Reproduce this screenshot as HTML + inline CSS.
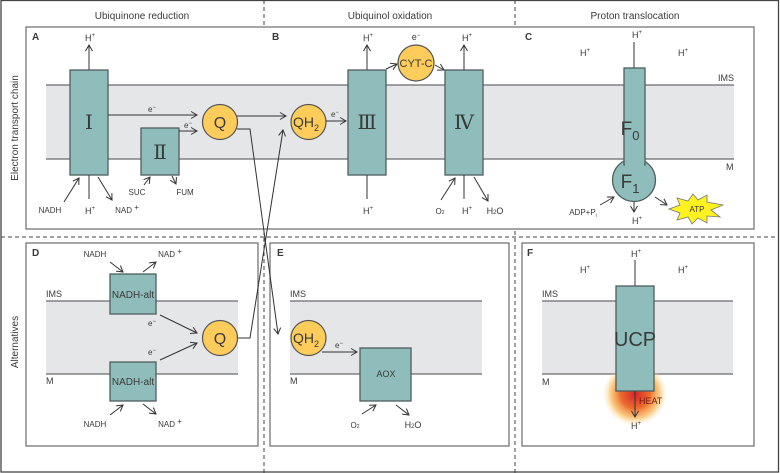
<!DOCTYPE html>
<html><head><meta charset="utf-8"><style>
html,body{margin:0;padding:0;background:#fff}
svg{display:block;font-family:"Liberation Sans",sans-serif}
text{fill:#3a3a3a}
.m{fill:#8fbdbb;stroke:#4f5d5d;stroke-width:1.3}
.c{fill:#fdcc5a;stroke:#555;stroke-width:1.2}
.a{stroke:#333;stroke-width:1;fill:none}
.ml{stroke:#6b6b6b;stroke-width:1.3}
.band{fill:#e5e6e8}
.s{font-size:8px}
.n{font-size:9px}
</style></head><body>
<svg width="780" height="473" viewBox="0 0 780 473">
<defs>
<marker id="ah" markerWidth="8" markerHeight="8" refX="7" refY="4" orient="auto" markerUnits="userSpaceOnUse"><path d="M1,0.5 L7,4 L1,7.5" fill="none" stroke="#333" stroke-width="1"/></marker>
<radialGradient id="heat" cx="0.5" cy="0.5" r="0.5"><stop offset="0" stop-color="#d5262a"/><stop offset="0.45" stop-color="#ec6a2c"/><stop offset="0.75" stop-color="#f9b04a" stop-opacity="0.7"/><stop offset="1" stop-color="#fde3a0" stop-opacity="0"/></radialGradient>
</defs>
<rect x="1" y="0.5" width="777.5" height="471.5" fill="none" stroke="#444" stroke-width="1.3"/>
<g stroke="#444" stroke-dasharray="4,3" stroke-width="1">
<line x1="1" y1="237" x2="779" y2="237"/><line x1="264" y1="0" x2="264" y2="473"/><line x1="515" y1="0" x2="515" y2="473"/>
</g>
<g font-size="10" text-anchor="middle">
<text x="142" y="19">Ubiquinone reduction</text><text x="390" y="19">Ubiquinol oxidation</text><text x="635" y="19">Proton translocation</text>
</g>
<text transform="translate(18,128) rotate(-90)" font-size="10" text-anchor="middle">Electron transport chain</text>
<text transform="translate(18,342) rotate(-90)" font-size="10" text-anchor="middle">Alternatives</text>

<rect x="26" y="27" width="728" height="202" fill="#fff" stroke="#777" stroke-width="1.3"/>
<rect x="26" y="243" width="232" height="203" fill="#fff" stroke="#777" stroke-width="1.3"/>
<rect x="270" y="243" width="239" height="203" fill="#fff" stroke="#777" stroke-width="1.3"/>
<rect x="522" y="243" width="232" height="203" fill="#fff" stroke="#777" stroke-width="1.3"/>
<g font-size="10" font-weight="bold">
<text x="32" y="40">A</text><text x="272" y="40">B</text><text x="525" y="40">C</text>
<text x="32" y="256">D</text><text x="277" y="256">E</text><text x="527" y="256">F</text>
</g>

<g>
<rect class="band" x="46" y="85" width="688" height="74"/>
<line class="ml" x1="46" y1="85" x2="734" y2="85"/><line class="ml" x1="46" y1="159" x2="734" y2="159"/>
<text x="718" y="81" class="n">IMS</text><text x="726" y="170" class="n">M</text>
</g>

<g>
<line class="a" x1="89" y1="70" x2="89" y2="45" marker-end="url(#ah)"/>
<text x="90" y="41" class="n" text-anchor="middle">H<tspan dy="-4" font-size="6">+</tspan></text>
<rect class="m" x="70" y="70" width="38" height="105"/>
<text x="89" y="129" font-size="20" text-anchor="middle" font-family="DejaVu Serif,serif">Ⅰ</text>
<line class="a" x1="89" y1="175" x2="89" y2="199"/>
<text x="90" y="214" class="n" text-anchor="middle">H<tspan dy="-4" font-size="6">+</tspan></text>
<line class="a" x1="64" y1="202" x2="79" y2="178" marker-end="url(#ah)"/>
<text x="50" y="213" class="s" text-anchor="middle">NADH</text>
<line class="a" x1="98" y1="177" x2="112" y2="200" marker-end="url(#ah)"/>
<text x="127" y="213" class="s" text-anchor="middle">NAD <tspan dy="-3">+</tspan></text>
</g>
<g>
<rect class="m" x="141" y="128" width="38" height="47"/>
<text x="160" y="159" font-size="20" text-anchor="middle" font-family="DejaVu Serif,serif">Ⅱ</text>
<line class="a" x1="144" y1="185" x2="150" y2="177" marker-end="url(#ah)"/>
<text x="137" y="195" class="s" text-anchor="middle">SUC</text>
<line class="a" x1="172" y1="176" x2="176" y2="184" marker-end="url(#ah)"/>
<text x="185" y="195" class="s" text-anchor="middle">FUM</text>
</g>
<g>
<line class="a" x1="108" y1="115" x2="197" y2="115" marker-end="url(#ah)"/><text x="152" y="112" class="s" text-anchor="middle">e<tspan dy="-3" font-size="6">−</tspan></text>
<line class="a" x1="179" y1="131" x2="197" y2="131" marker-end="url(#ah)"/><text x="188" y="128" class="s" text-anchor="middle">e<tspan dy="-3" font-size="6">−</tspan></text>
</g>
<g>
<circle class="c" cx="220" cy="122" r="17.5"/><text x="220" y="128" font-size="16" text-anchor="middle">Q</text>
</g>
<line class="a" x1="237" y1="116" x2="286" y2="116" marker-end="url(#ah)"/>
<polyline class="a" points="237,129 250,129 278,334" marker-end="url(#ah)"/>
<polyline class="a" points="238,338 250,338 283,130" marker-end="url(#ah)"/>
<g>
<circle class="c" cx="308.5" cy="122" r="17.5"/><text x="306" y="127" font-size="14" text-anchor="middle">QH<tspan dy="4" font-size="9">2</tspan></text>
</g>
<line class="a" x1="326" y1="121" x2="346" y2="121" marker-end="url(#ah)"/>
<text x="335" y="117" class="s" text-anchor="middle">e<tspan dy="-3" font-size="6">−</tspan></text>
<g>
<line class="a" x1="367" y1="70" x2="367" y2="45" marker-end="url(#ah)"/>
<text x="368" y="41" class="n" text-anchor="middle">H<tspan dy="-4" font-size="6">+</tspan></text>
<rect class="m" x="348" y="70" width="38" height="105"/>
<text x="367" y="129" font-size="20" text-anchor="middle" font-family="DejaVu Serif,serif">Ⅲ</text>
<line class="a" x1="367" y1="175" x2="367" y2="199"/>
<text x="368" y="214" class="n" text-anchor="middle">H<tspan dy="-4" font-size="6">+</tspan></text>
</g>
<g>
<line class="a" x1="386" y1="69" x2="397" y2="64" marker-end="url(#ah)"/>
<circle class="c" cx="416" cy="63" r="18"/><text x="416" y="67" font-size="11" text-anchor="middle">CYT-C</text>
<text x="416" y="40" class="n" text-anchor="middle">e<tspan dy="-3" font-size="6">−</tspan></text>
<line class="a" x1="435" y1="65" x2="444" y2="70" marker-end="url(#ah)"/>
</g>
<g>
<line class="a" x1="464" y1="70" x2="464" y2="45" marker-end="url(#ah)"/>
<text x="467" y="41" class="n" text-anchor="middle">H<tspan dy="-4" font-size="6">+</tspan></text>
<rect class="m" x="445" y="70" width="38" height="105"/>
<text x="464" y="129" font-size="20" text-anchor="middle" font-family="DejaVu Serif,serif">Ⅳ</text>
<line class="a" x1="464" y1="175" x2="464" y2="199"/>
<text x="467" y="214" class="n" text-anchor="middle">H<tspan dy="-4" font-size="6">+</tspan></text>
<line class="a" x1="441" y1="200" x2="455" y2="178" marker-end="url(#ah)"/>
<text x="440" y="214" class="s" text-anchor="middle">O<tspan font-size="5">2</tspan></text>
<line class="a" x1="474" y1="177" x2="488" y2="201" marker-end="url(#ah)"/>
<text x="495" y="214" class="n" text-anchor="middle">H<tspan font-size="6">2</tspan>O</text>
</g>
<g>
<line class="a" x1="634" y1="68" x2="634" y2="42"/>
<text x="637" y="38" class="n" text-anchor="middle">H<tspan dy="-4" font-size="6">+</tspan></text>
<text x="585" y="56" class="n" text-anchor="middle">H<tspan dy="-4" font-size="6">+</tspan></text>
<text x="683" y="56" class="n" text-anchor="middle">H<tspan dy="-4" font-size="6">+</tspan></text>
<circle class="m" cx="634" cy="180" r="21.5"/>
<rect class="m" x="624" y="68" width="21" height="97"/>
<rect x="625" y="150" width="19" height="18" fill="#8fbdbb"/>
<text x="630" y="135" font-size="19" text-anchor="middle">F<tspan dy="5" font-size="13">0</tspan></text>
<text x="630" y="188" font-size="19" text-anchor="middle">F<tspan dy="5" font-size="13">1</tspan></text>
<line class="a" x1="634" y1="202" x2="634" y2="212" marker-end="url(#ah)"/>
<text x="637" y="224" class="n" text-anchor="middle">H<tspan dy="-4" font-size="6">+</tspan></text>
<line class="a" x1="600" y1="205" x2="614" y2="197" marker-end="url(#ah)"/>
<text x="583" y="215" class="s" text-anchor="middle">ADP+P<tspan font-size="5" dy="2">i</tspan></text>
<line class="a" x1="655" y1="197" x2="667" y2="205" marker-end="url(#ah)"/>
<polygon points="669,209 680,205 677,198 688,201 693,194 698,200 707,195 707,202 723,205 711,210 720,217 707,216 707,223 698,218 692,224 688,217 677,220 680,213" fill="#fff21e" stroke="#777" stroke-width="0.8"/>
<text x="697" y="212" font-size="8" text-anchor="middle">ATP</text>
</g>

<g>
<rect class="band" x="46" y="301" width="192" height="73"/>
<line class="ml" x1="46" y1="301" x2="238" y2="301"/><line class="ml" x1="46" y1="374" x2="238" y2="374"/>
<text x="46" y="297" class="n">IMS</text><text x="46" y="384" class="n">M</text>
</g>
<g>
<rect class="m" x="110" y="274" width="46" height="40"/>
<text x="133" y="298" font-size="10" text-anchor="middle">NADH-alt</text>
<line class="a" x1="110" y1="262" x2="123" y2="272" marker-end="url(#ah)"/>
<text x="95" y="257" class="s" text-anchor="middle">NADH</text>
<line class="a" x1="143" y1="272" x2="156" y2="262" marker-end="url(#ah)"/>
<text x="170" y="257" class="s" text-anchor="middle">NAD <tspan dy="-3">+</tspan></text>
</g>
<g>
<rect class="m" x="110" y="362" width="46" height="39"/>
<text x="133" y="385" font-size="10" text-anchor="middle">NADH-alt</text>
<line class="a" x1="110" y1="415" x2="123" y2="405" marker-end="url(#ah)"/>
<text x="95" y="427" class="s" text-anchor="middle">NADH</text>
<line class="a" x1="143" y1="404" x2="156" y2="414" marker-end="url(#ah)"/>
<text x="170" y="427" class="s" text-anchor="middle">NAD <tspan dy="-3">+</tspan></text>
</g>
<g>
<line class="a" x1="160" y1="315" x2="197" y2="333" marker-end="url(#ah)"/><text x="152" y="326" class="s" text-anchor="middle">e<tspan dy="-3" font-size="6">−</tspan></text>
<line class="a" x1="160" y1="360" x2="197" y2="343" marker-end="url(#ah)"/><text x="152" y="355" class="s" text-anchor="middle">e<tspan dy="-3" font-size="6">−</tspan></text>
</g>
<g>
<circle class="c" cx="220" cy="338" r="17.5"/><text x="220" y="344" font-size="16" text-anchor="middle">Q</text>
</g>

<g>
<rect class="band" x="290" y="301" width="192" height="73"/>
<line class="ml" x1="290" y1="301" x2="482" y2="301"/><line class="ml" x1="290" y1="374" x2="482" y2="374"/>
<text x="290" y="297" class="n">IMS</text><text x="290" y="384" class="n">M</text>
</g>
<g>
<circle class="c" cx="308.5" cy="338" r="17.5"/><text x="306" y="343" font-size="14" text-anchor="middle">QH<tspan dy="4" font-size="9">2</tspan></text>
</g>
<line class="a" x1="322" y1="352" x2="357" y2="352" marker-end="url(#ah)"/>
<text x="339" y="348" class="s" text-anchor="middle">e<tspan dy="-3" font-size="6">−</tspan></text>
<g>
<rect class="m" x="360" y="348" width="51" height="53"/>
<text x="386" y="377" font-size="9" text-anchor="middle">AOX</text>
<line class="a" x1="362" y1="414" x2="376" y2="405" marker-end="url(#ah)"/>
<text x="355" y="428" class="s" text-anchor="middle">O<tspan font-size="5">2</tspan></text>
<line class="a" x1="396" y1="405" x2="409" y2="415" marker-end="url(#ah)"/>
<text x="413" y="428" class="n" text-anchor="middle">H<tspan font-size="6">2</tspan>O</text>
</g>

<g>
<rect class="band" x="542" y="301" width="191" height="73"/>
<line class="ml" x1="542" y1="301" x2="733" y2="301"/><line class="ml" x1="542" y1="374" x2="733" y2="374"/>
<text x="542" y="297" class="n">IMS</text><text x="542" y="385" class="n">M</text>
</g>
<circle cx="635" cy="394" r="32" fill="url(#heat)"/>
<g>
<line class="a" x1="635" y1="286" x2="635" y2="260"/>
<text x="636" y="257" class="n" text-anchor="middle">H<tspan dy="-4" font-size="6">+</tspan></text>
<text x="585" y="273" class="n" text-anchor="middle">H<tspan dy="-4" font-size="6">+</tspan></text>
<text x="683" y="273" class="n" text-anchor="middle">H<tspan dy="-4" font-size="6">+</tspan></text>
<rect class="m" x="616" y="286" width="38" height="105"/>
<text x="635" y="346" font-size="20" text-anchor="middle">UCP</text>
<line class="a" x1="635" y1="391" x2="635" y2="417" marker-end="url(#ah)"/>
<text x="639" y="404" font-size="9" style="fill:#7a1a12">HEAT</text>
<text x="636" y="429" class="n" text-anchor="middle">H<tspan dy="-4" font-size="6">+</tspan></text>
</g>
</svg>
</body></html>
